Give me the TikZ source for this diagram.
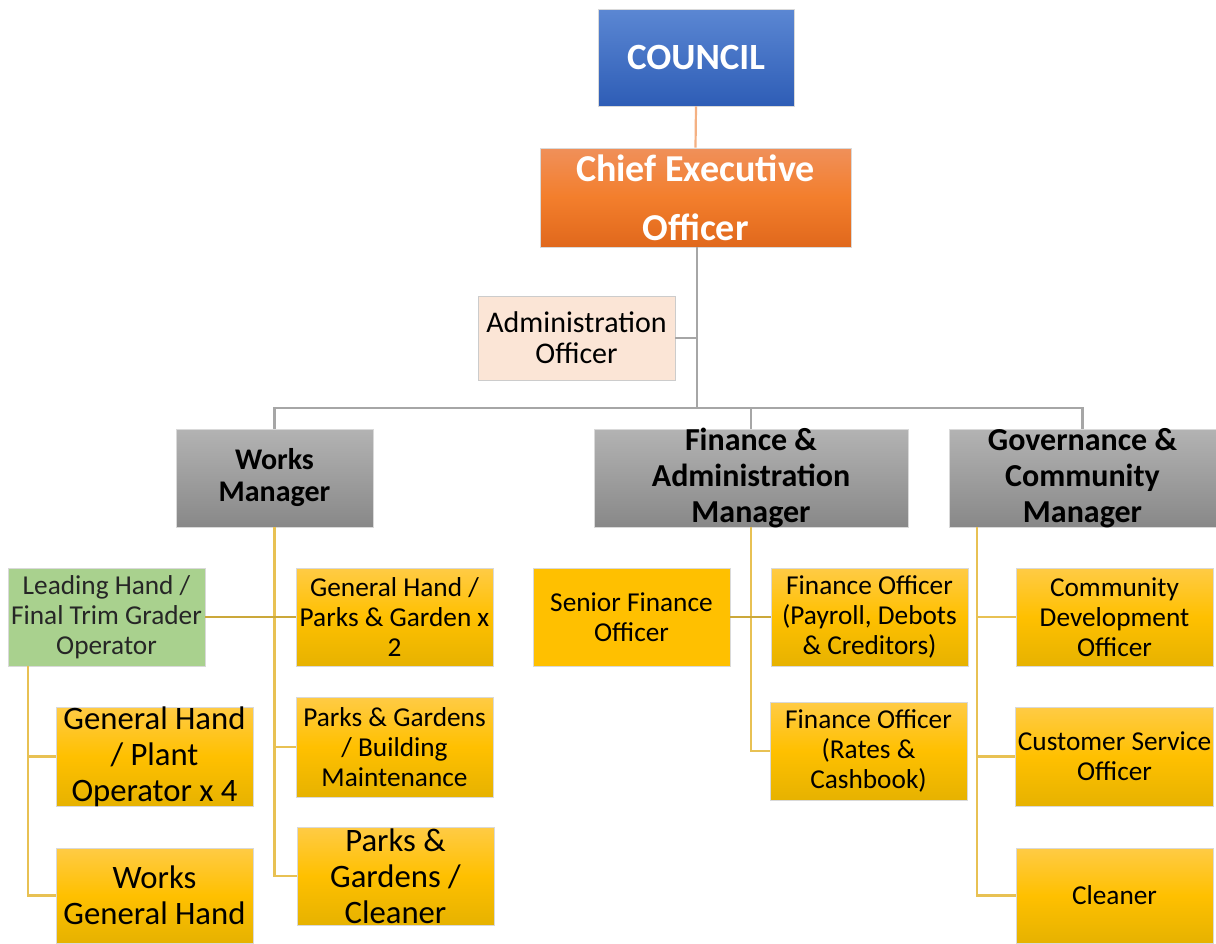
\documentclass[tikz,border=0pt]{standalone}
\usepackage{fontspec}
\setmainfont{Carlito}
\begin{document}
\begin{tikzpicture}[x=1pt,y=-1pt,
  box/.style={draw=black!15,line width=0.8pt,align=center,inner xsep=2pt,inner ysep=-6pt,anchor=center},
  ybox/.style={box,top color=yTop,bottom color=yBot,middle color=yMid,text=black},
  gbox/.style={box,top color=gTop,bottom color=gBot,text=black},
  rgl/.style={font=\fontsize{27.3}{30}\selectfont},
  big/.style={font=\fontsize{32.7}{36}\selectfont},
  gline/.style={draw=lineGray,line width=2.2pt},
  yline/.style={draw=lineGold,line width=2.2pt},
  oline/.style={draw=lineOlive,line width=2.2pt}]
\definecolor{yTop}{HTML}{FFCB45}
\definecolor{yMid}{HTML}{FFC000}
\definecolor{yBot}{HTML}{E6B200}
\definecolor{gTop}{HTML}{B3B3B3}
\definecolor{gBot}{HTML}{888888}
\definecolor{bTop}{HTML}{5B87D3}
\definecolor{bBot}{HTML}{2E5DB6}
\definecolor{oTop}{HTML}{F0905A}
\definecolor{oMid}{HTML}{F37E2C}
\definecolor{oBot}{HTML}{E0681C}
\definecolor{peach}{HTML}{FBE5D6}
\definecolor{leaf}{HTML}{A9D18E}
\definecolor{lineGray}{HTML}{A6A6A6}
\definecolor{lineGold}{HTML}{E8C153}
\definecolor{lineOlive}{HTML}{CBA83A}
\definecolor{lineSalmon}{HTML}{F4B183}
\useasboundingbox (0,0) rectangle (1216,943);

% top
\node[box,top color=bTop,bottom color=bBot,minimum width=196pt,minimum height=97pt,text=white,font=\bfseries\fontsize{37}{40}\selectfont] (council) at (696,57.5) {COUNCIL};
\node[box,top color=oTop,bottom color=oBot,middle color=oMid,minimum width=311pt,minimum height=99pt,text=white,font=\bfseries\fontsize{38}{59}\selectfont] (ceo) at (695.5,197.5) {Chief Executive\\Officer};
\node[box,fill=peach,draw=black!20,minimum width=197pt,minimum height=84pt,font=\fontsize{30}{31}\selectfont] (admin) at (576.5,338) {Administration\\Officer};

% managers
\node[gbox,minimum width=197pt,minimum height=98pt,font=\bfseries\fontsize{30}{32}\selectfont] (works) at (274.5,478) {Works\\Manager};
\node[gbox,minimum width=314pt,minimum height=98pt,font=\bfseries\fontsize{32}{36}\selectfont] (fin) at (751,478) {Finance \&\\Administration\\Manager};
\node[gbox,minimum width=267pt,minimum height=98pt,font=\bfseries\fontsize{32}{36}\selectfont] (gov) at (1082.5,478) {Governance \&\\Community\\Manager};

% works children
\node[box,fill=leaf,minimum width=197pt,minimum height=98pt,rgl,text=black!85] (lead) at (106.5,617) {Leading Hand /\\Final Trim Grader\\Operator};
\node[ybox,minimum width=197pt,minimum height=98pt,rgl] (gh2) at (394.5,617) {General Hand /\\Parks \& Garden x\\2};
\node[ybox,minimum width=197pt,minimum height=100pt,rgl] (pgbm) at (394.5,747) {Parks \& Gardens\\/ Building\\Maintenance};
\node[ybox,minimum width=197pt,minimum height=98pt,big] (pgcl) at (395.5,876) {Parks \&\\Gardens /\\Cleaner};
\node[ybox,minimum width=197pt,minimum height=99pt,big] (ghpo) at (154.5,756.5) {General Hand\\/ Plant\\Operator x 4};
\node[ybox,minimum width=197pt,minimum height=95pt,big] (wgh) at (154.5,895.5) {Works\\General Hand};

% finance children
\node[box,fill=yMid,minimum width=197pt,minimum height=98pt,rgl] (sfo) at (631.5,617) {Senior Finance\\Officer};
\node[ybox,minimum width=197pt,minimum height=98pt,rgl] (fo1) at (869.5,617) {Finance Officer\\(Payroll, Debots\\\& Creditors)};
\node[ybox,minimum width=197pt,minimum height=98pt,rgl] (fo2) at (868.5,751) {Finance Officer\\(Rates \&\\Cashbook)};

% governance children
\node[ybox,minimum width=197pt,minimum height=98pt,rgl] (cdo) at (1114.5,617) {Community\\Development\\Officer};
\node[ybox,minimum width=197pt,minimum height=99pt,rgl] (cso) at (1114.5,756.5) {Customer Service\\Officer};
\node[ybox,minimum width=197pt,minimum height=95pt,rgl] (cln) at (1114.5,895.5) {Cleaner};

% coordinates
\coordinate (bus) at (697,408);
\coordinate (ceoDrop) at (697,247);
\coordinate (leadDrop) at (28,666);
\coordinate (govDrop) at (977,527);

% connectors
\draw[draw=lineSalmon,line width=2.2pt] (council.south) -- (ceo.north);
\draw[gline] (ceoDrop) -- (bus);
\draw[gline] (admin.east) -- (admin.east -| ceoDrop);
\draw[gline] (works.north) |- (bus) -| (gov.north);
\draw[gline] (fin.north) -- (fin.north |- bus);

\draw[yline] (works.south) -- (works.south |- pgcl.west) -- (pgcl.west);
\draw[yline] (works.south |- pgbm.west) -- (pgbm.west);
\draw[oline] (lead.east) -- (gh2.west);
\draw[yline] (leadDrop) |- (wgh.west);
\draw[yline] (leadDrop |- ghpo.west) -- (ghpo.west);

\draw[yline] (fin.south) |- (fo2.west);
\draw[oline] (sfo.east) -- (fo1.west);

\draw[yline] (govDrop) |- (cln.west);
\draw[yline] (govDrop |- cdo.west) -- (cdo.west);
\draw[yline] (govDrop |- cso.west) -- (cso.west);
\end{tikzpicture}
\end{document}
